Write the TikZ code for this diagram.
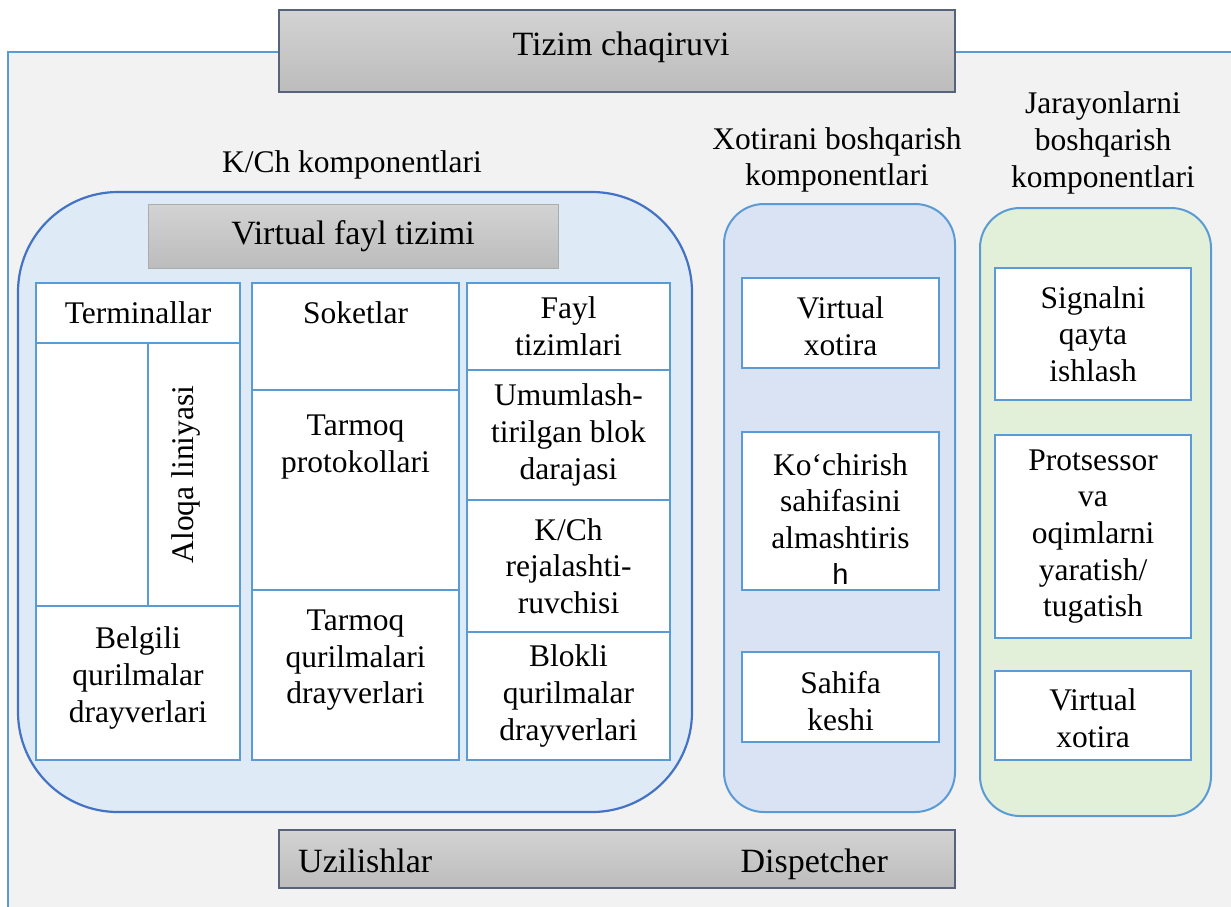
\documentclass[tikz,border=0pt]{standalone}
\usepackage{fontspec}
\setmainfont{LiberationSerif}[Extension=.ttf,UprightFont=*-Regular,BoldFont=*-Bold]
\newfontfamily\sanshfont{Liberation Sans}
\usetikzlibrary{positioning}
\usepackage{xcolor}
\definecolor{PaleGray}{HTML}{F2F2F2}
\definecolor{FrameBlue}{HTML}{5B9BD5}
\definecolor{IoBlue}{HTML}{4472C4}
\definecolor{IoFill}{HTML}{DEEBF7}
\definecolor{MemFill}{HTML}{DAE3F3}
\definecolor{ProcFill}{HTML}{E2F0D9}
\definecolor{BarTop}{HTML}{D3D3D3}
\definecolor{BarBot}{HTML}{BCBCBC}
\definecolor{BarEdge}{HTML}{56637A}

\begin{document}
\begin{tikzpicture}[x=1pt,y=-1pt,
    font=\fontsize{31.5}{36.6}\selectfont,
    bar/.style={draw=BarEdge,line width=1.2pt,top color=BarTop,bottom color=BarBot,inner sep=0pt},
    group/.style={draw=FrameBlue,line width=2pt,inner sep=0pt},
    cell/.style={draw=FrameBlue,fill=white,line width=2.2pt,align=center,inner sep=0pt},
    caption/.style={align=center,inner sep=0pt}]
    \useasboundingbox (0,0) rectangle (1231,906);

    % kernel frame
    \fill[PaleGray] (8,52) rectangle (1240,915);
    \draw[FrameBlue,line width=2.2pt] (279,52) -- (8,52) -- (8,915);
    \draw[FrameBlue,line width=2.2pt] (955,52) -- (1240,52);

    % system call / interrupt bars
    \node[bar,minimum width=676pt,minimum height=82pt] (syscall) at (617,51) {};
    \node[caption,font=\fontsize{34}{40}\selectfont] (syscallTxt) at (621,47) {Tizim chaqiruvi};
    \node[bar,minimum width=676pt,minimum height=58pt] (irq) at (617,859) {};
    \node[anchor=base west,inner sep=0pt,font=\fontsize{34}{40}\selectfont] (irqL) at (298,872) {Uzilishlar};
    \node[anchor=base east,inner sep=0pt,font=\fontsize{34}{40}\selectfont] (irqR) at (888,872) {Dispetcher};

    % I/O components
    \node[group,draw=IoBlue,line width=2.2pt,fill=IoFill,rounded corners=100pt,
      minimum width=674pt,minimum height=620pt] (io) at (355,502) {};
    \node[caption] (ioCap) at (352,165) {K/Ch komponentlari};
    \node[bar,draw=gray!65,line width=1pt,minimum width=410pt,minimum height=64pt,
      font=\fontsize{34}{40}\selectfont] (vfs) at (353,236) {Virtual fayl tizimi};

    % column 1
    \node[cell,minimum width=204pt,minimum height=60pt] (term) at (138,313) {Terminallar};
    \node[cell,minimum width=112pt,minimum height=263pt] (blank) at (92,474.5) {};
    \node[cell,minimum width=92pt,minimum height=263pt] (line) at (194,474.5) {};
    \node[rotate=90,inner sep=0pt] (lineTxt) at ([xshift=-8pt]line.center) {Aloqa liniyasi};
    \node[cell,minimum width=204pt,minimum height=154pt] (chdrv) at (138,683) {};
    \node[caption] (chdrvTxt) at ([yshift=5pt]chdrv.center) {Belgili\\qurilmalar\\drayverlari};

    % column 2
    \node[cell,minimum width=207pt,minimum height=107pt] (sock) at (355.5,336.5) {};
    \node[caption,below=20pt of sock.north] (sockTxt) {Soketlar};
    \node[cell,minimum width=207pt,minimum height=200pt] (proto) at (355.5,490) {};
    \node[caption,below=26pt of proto.north] (protoTxt) {Tarmoq\\protokollari};
    \node[cell,minimum width=207pt,minimum height=170pt] (netdrv) at (355.5,675) {};
    \node[caption,below=21pt of netdrv.north] (netdrvTxt) {Tarmoq\\qurilmalari\\drayverlari};

    % column 3
    \node[cell,minimum width=203pt,minimum height=87pt] (fs) at (568.5,326.5) {Fayl\\tizimlari};
    \node[cell,minimum width=203pt,minimum height=130pt] (blk) at (568.5,435)
      {Umumlash-\\tirilgan blok\\darajasi};
    \node[cell,minimum width=203pt,minimum height=132pt] (sched) at (568.5,566)
      {K/Ch\\rejalashti-\\ruvchisi};
    \node[cell,minimum width=203pt,minimum height=128pt] (blkdrv) at (568.5,696)
      {Blokli\\qurilmalar\\drayverlari};

    % memory management
    \node[caption] (memCap) at (837,160) {Xotirani boshqarish\\komponentlari};
    \node[group,fill=MemFill,rounded corners=40pt,minimum width=231pt,minimum height=608pt]
      (mem) at (839.5,508) {};
    \node[cell,minimum width=197pt,minimum height=90pt] (vmA) at (840.5,323) {};
    \node[caption] (vmATxt) at ([yshift=-3pt]vmA.center) {Virtual\\xotira};
    \node[cell,minimum width=197pt,minimum height=158pt] (swap) at (840.5,511) {};
    \node[caption] (swapTxt) at ([yshift=-8pt]swap.center)
      {Ko‘chirish\\sahifasini\\almashtiris\\{\sanshfont\fontsize{29}{36.6}\selectfont h}};
    \node[cell,minimum width=197pt,minimum height=90pt] (pcache) at (840.5,697) {};
    \node[caption] (pcacheTxt) at ([yshift=-4pt]pcache.center) {Sahifa\\keshi};

    % process management
    \node[caption] (procCap) at (1103,143) {Jarayonlarni\\boshqarish\\komponentlari};
    \node[group,fill=ProcFill,rounded corners=40pt,minimum width=231pt,minimum height=608pt]
      (proc) at (1095.5,512) {};
    \node[cell,minimum width=196pt,minimum height=132pt] (sig) at (1093,334)
      {Signalni\\qayta\\ishlash};
    \node[cell,minimum width=196pt,minimum height=203pt] (thr) at (1093,536.5)
      {Protsessor\\va\\oqimlarni\\yaratish/\\tugatish};
    \node[cell,minimum width=196pt,minimum height=89pt] (vmB) at (1093,715.5) {};
    \node[caption] (vmBTxt) at ([yshift=-3pt]vmB.center) {Virtual\\xotira};
\end{tikzpicture}
\end{document}
